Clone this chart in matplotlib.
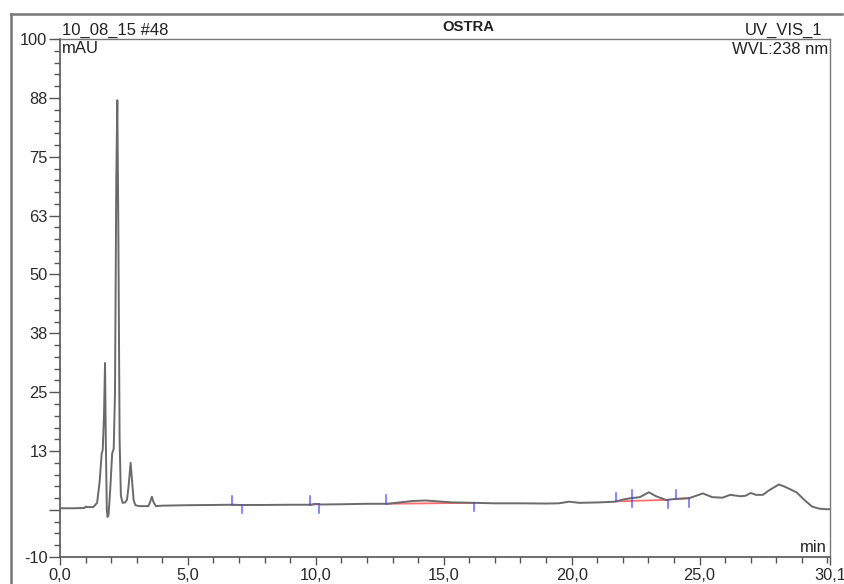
import numpy as np
import matplotlib
matplotlib.use("Agg")
import matplotlib.pyplot as plt
from matplotlib.lines import Line2D

plt.rcParams['font.family'] = ['Liberation Sans', 'DejaVu Sans']

# ---- data ----
time_min = [0.0, 0.5, 0.95, 1.0, 1.05, 1.3, 1.45, 1.55, 1.63, 1.67, 1.72, 1.76, 1.79, 1.83,
            1.86, 1.9, 1.97, 2.04, 2.1, 2.15, 2.2, 2.24, 2.28, 2.33, 2.38, 2.45, 2.55, 2.62,
            2.68, 2.76, 2.82, 2.88, 2.95, 3.1, 3.45, 3.52, 3.59, 3.66, 3.75, 4.0, 5.0, 6.0,
            6.7, 7.0, 8.0, 9.0, 9.8, 10.0, 10.2, 11.0, 12.0, 12.8, 13.3, 13.8, 14.3, 14.8,
            15.3, 16.2, 17.0, 18.0, 19.0, 19.5, 19.9, 20.3, 21.1, 21.7, 22.0, 22.33, 22.66,
            23.02, 23.3, 23.7, 24.0, 24.6, 25.13, 25.5, 25.9, 26.2, 26.6, 26.8, 27.0, 27.2,
            27.48, 27.7, 28.1, 28.3, 28.5, 28.8, 29.1, 29.4, 29.7, 29.95, 30.1]
signal_mau = [0.35, 0.35, 0.4, 0.7, 0.6, 0.6, 1.5, 6.0, 12.0, 12.7, 20.0, 31.2, 15.0, 0.0,
              -1.5, -1.0, 5.0, 12.0, 13.0, 25.0, 70.0, 87.0, 60.0, 15.0, 3.0, 1.5, 1.6, 2.2,
              5.0, 10.0, 6.0, 2.0, 1.0, 0.8, 0.8, 1.6, 2.8, 1.6, 0.8, 0.9, 1.0, 1.05,
              1.1, 1.05, 1.05, 1.1, 1.1, 1.3, 1.15, 1.2, 1.3, 1.3, 1.6, 1.9, 2.0, 1.8,
              1.6, 1.5, 1.4, 1.4, 1.35, 1.4, 1.75, 1.5, 1.6, 1.75, 2.2, 2.5, 2.7,
              3.75, 2.9, 2.1, 2.3, 2.5, 3.5, 2.7, 2.6, 3.2, 2.9, 3.0, 3.6, 3.2,
              3.2, 4.1, 5.4, 5.0, 4.5, 3.7, 2.1, 0.7, 0.25, 0.15, 0.15]

peak_start = [6.73, 9.79, 12.76, 21.74, 22.36, 24.09]
peak_end = [7.1, 10.13, 16.18, 22.36, 23.77, 24.58]
baseline_start = [6.73, 9.79, 12.76, 21.74, 24.09]
baseline_end = [7.1, 10.13, 16.18, 23.77, 24.58]

y_ticks = [-10, 0, 12.5, 25, 37.5, 50, 62.5, 75, 87.5, 100]
y_ticklabels = ['-10', '', '13', '25', '38', '50', '63', '75', '88', '100']
x_ticks = [0.0, 5.0, 10.0, 15.0, 20.0, 25.0, 30.1]
x_ticklabels = ['0,0', '5,0', '10,0', '15,0', '20,0', '25,0', '30,1']

W, H = 845, 584
fig = plt.figure(figsize=(W / 100, H / 100), dpi=100)
ax = fig.add_axes([60 / W, 1 - 557 / H, (830 - 60) / W, (557 - 39) / H])

ax.plot(time_min, signal_mau, color='#6a6a6a', lw=1.4, zorder=3)

t = np.array(time_min)
s = np.array(signal_mau)
for a, b in zip(baseline_start, baseline_end):
    ax.plot([a, b], [np.interp(a, t, s), np.interp(b, t, s)], color='#ff4a4a',
            alpha=0.8, lw=1.3, zorder=2)
tick_len = 1.8
for a in peak_start:
    v = np.interp(a, t, s)
    ax.plot([a, a], [v, v + tick_len], color='#4a4aff', alpha=0.85, lw=1.1, zorder=4)
for b in peak_end:
    v = np.interp(b, t, s)
    ax.plot([b, b], [v, v - tick_len], color='#4a4aff', alpha=0.85, lw=1.1, zorder=4)

ax.set_xlim(0, 30.1)
ax.set_ylim(-10, 100)
ax.set_yticks(y_ticks)
ax.set_yticklabels(y_ticklabels)
ax.set_yticks(np.arange(-10, 100.01, 2.5), minor=True)
ax.set_xticks(x_ticks)
ax.set_xticklabels(x_ticklabels)
ax.set_xticks(np.arange(0, 30.1, 1.0), minor=True)

ax.tick_params(axis='y', which='major', length=8, width=1, color='#555555', pad=1,
               labelsize=11.8, labelcolor='#2a2a2a')
ax.tick_params(axis='y', which='minor', length=4, width=1, color='#555555')
ax.tick_params(axis='x', which='major', length=6, width=1, color='#555555', pad=2,
               labelsize=11.8, labelcolor='#2a2a2a')
ax.tick_params(axis='x', which='minor', length=4, width=1, color='#555555')

for side in ['left', 'bottom']:
    ax.spines[side].set_color('#555555')
    ax.spines[side].set_linewidth(1.2)
for side in ['top', 'right']:
    ax.spines[side].set_color('#777777')
    ax.spines[side].set_linewidth(1.0)

# outer frame lines
fig.add_artist(Line2D([11 / W, 842 / W], [1 - 14 / H, 1 - 14 / H], color='#777777', lw=1.8))
fig.add_artist(Line2D([11 / W, 11 / W], [1 - 14 / H, 0], color='#777777', lw=1.8))

def ftext(px, py, s, **kw):
    fig.text(px / W, 1 - py / H, s, va='baseline', color='#222222', **kw)

ftext(62, 35, '10_08_15 #48', ha='left', fontsize=12)
ftext(468, 31, 'OSTRA', ha='center', fontsize=10.7, fontweight='bold')
ftext(822, 35, 'UV_VIS_1', ha='right', fontsize=12)
ftext(828, 54, 'WVL:238 nm', ha='right', fontsize=12)
ftext(62, 53, 'mAU', ha='left', fontsize=12)
ftext(827, 552, 'min', ha='right', fontsize=12)

fig.savefig('out.png', dpi=100)
